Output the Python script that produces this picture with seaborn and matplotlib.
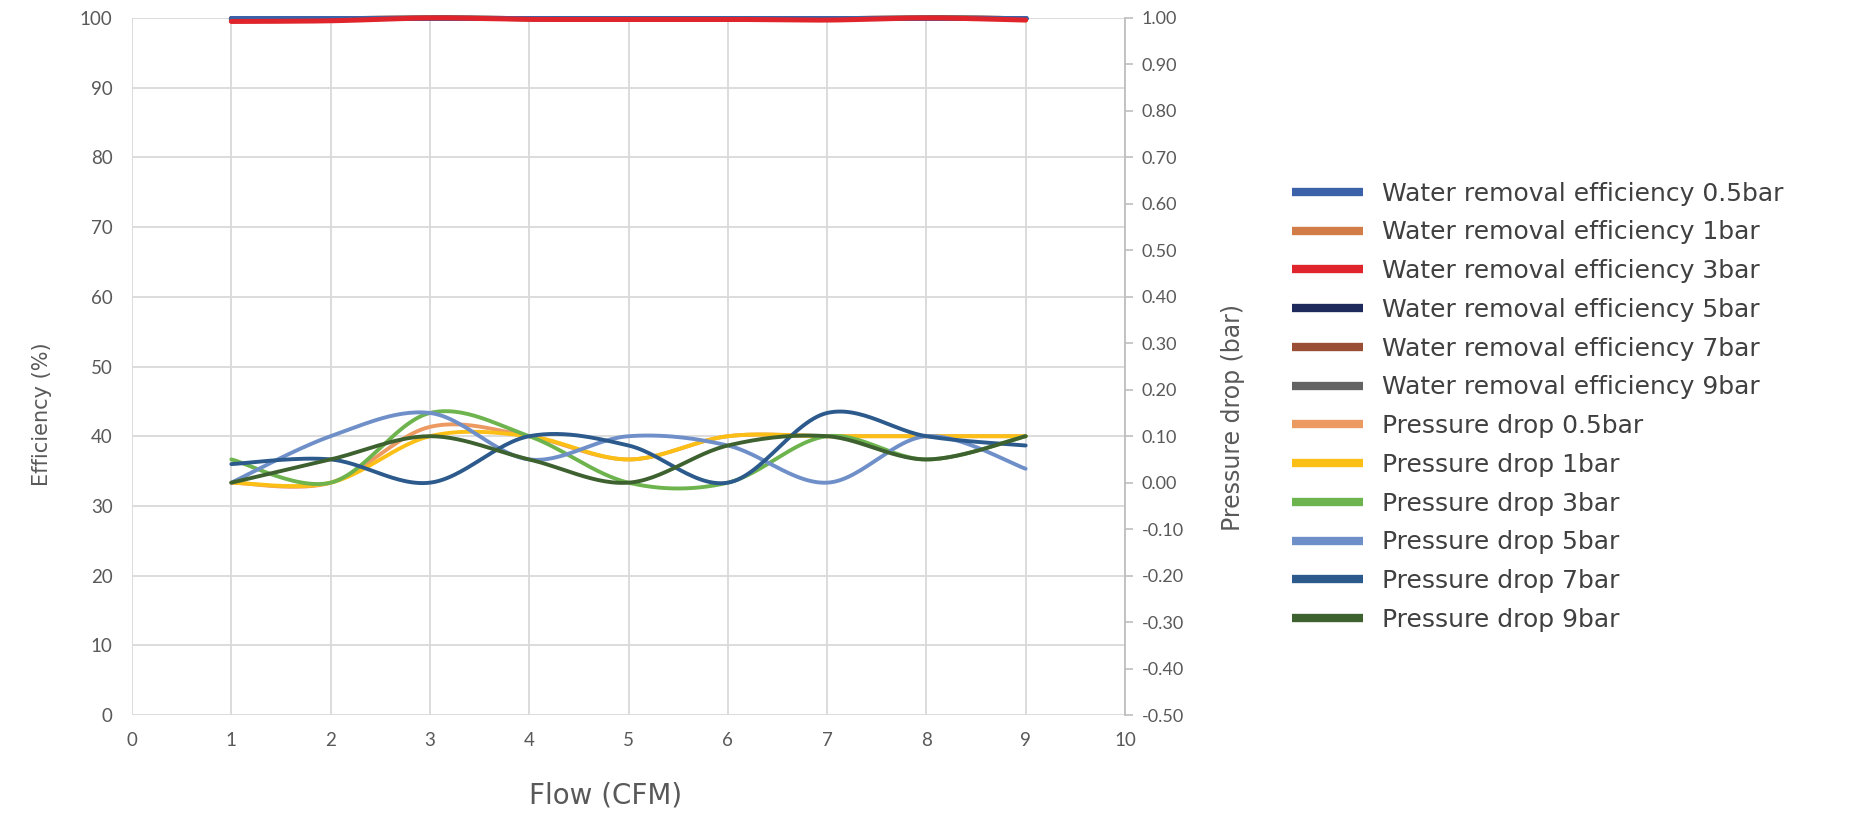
import numpy as np
import pandas as pd
import seaborn as sns
import matplotlib.pyplot as plt
from matplotlib.lines import Line2D

# Flow values (CFM)
flow = [1, 2, 3, 4, 5, 6, 7, 8, 9]

# Water removal efficiency (%) - left axis
eff_05 = [100, 100, 100, 100, 100, 100, 100, 100, 100]
eff_1 = [99.9, 99.9, 100, 99.9, 99.9, 99.9, 99.9, 100, 99.9]
eff_3 = [99.5, 99.6, 100, 99.8, 99.8, 99.8, 99.7, 100, 99.7]
eff_5 = [99.9, 99.9, 100, 99.9, 99.9, 99.9, 99.9, 100, 99.9]
eff_7 = [99.9, 99.9, 100, 99.9, 99.9, 99.9, 99.9, 100, 99.9]
eff_9 = [99.9, 99.9, 100, 99.9, 99.9, 99.9, 99.9, 100, 99.9]

# Pressure drop (bar) - right axis
dp_05 = [0.00, 0.00, 0.12, 0.10, 0.05, 0.10, 0.10, 0.10, 0.10]
dp_1 = [0.00, 0.00, 0.10, 0.10, 0.05, 0.10, 0.10, 0.10, 0.10]
dp_3 = [0.05, 0.00, 0.15, 0.10, 0.00, 0.00, 0.10, 0.05, 0.10]
dp_5 = [0.00, 0.10, 0.15, 0.05, 0.10, 0.08, 0.00, 0.10, 0.03]
dp_7 = [0.04, 0.05, 0.00, 0.10, 0.08, 0.00, 0.15, 0.10, 0.08]
dp_9 = [0.00, 0.05, 0.10, 0.05, 0.00, 0.08, 0.10, 0.05, 0.10]

eff_labels = ['Water removal efficiency 0.5bar', 'Water removal efficiency 1bar',
              'Water removal efficiency 3bar', 'Water removal efficiency 5bar',
              'Water removal efficiency 7bar', 'Water removal efficiency 9bar']
dp_labels = ['Pressure drop 0.5bar', 'Pressure drop 1bar', 'Pressure drop 3bar',
             'Pressure drop 5bar', 'Pressure drop 7bar', 'Pressure drop 9bar']

eff_colors = ['#3B62A8', '#D27D48', '#E0242B', '#1F2A5C', '#9A4E35', '#636363']
dp_colors = ['#EC9A62', '#FBBF16', '#6EB44E', '#6F8FC9', '#2C5A8C', '#3E6130']


def smooth(xs, ys, n=30):
    # Excel-style smoothed line (Catmull-Rom bezier between points)
    p = np.column_stack([xs, ys]).astype(float)
    p = np.vstack([p[0], p, p[-1]])
    out = []
    t = np.linspace(0, 1, n)[:, None]
    for i in range(1, len(p) - 2):
        p0, p1, p2, p3 = p[i - 1], p[i], p[i + 1], p[i + 2]
        c1 = p1 + (p2 - p0) / 6
        c2 = p2 - (p3 - p1) / 6
        seg = ((1 - t) ** 3) * p1 + 3 * ((1 - t) ** 2) * t * c1 + 3 * (1 - t) * t ** 2 * c2 + t ** 3 * p2
        out.append(seg if i == 1 else seg[1:])
    out = np.vstack(out)
    return pd.DataFrame({'x': out[:, 0], 'y': out[:, 1]})


sns.set_style('white')
plt.rcParams['font.family'] = ['DejaVu Sans']

fig = plt.figure(figsize=(18.65, 8.14), dpi=100)
ax = fig.add_axes([0.0708, 0.1216, 0.5324, 0.8563])
ax2 = ax.twinx()

grid_c = '#D9D9D9'
text_c = '#595959'

# Efficiency lines (left axis); blue sits on top edge, red drawn above the rest
eff_z = [4, 3, 5, 3, 3, 3]
for vals, col, z in zip([eff_05, eff_1, eff_3, eff_5, eff_7, eff_9], eff_colors, eff_z):
    d = smooth(flow, vals)
    sns.lineplot(data=d, x='x', y='y', ax=ax, color=col, linewidth=3.6,
                 estimator=None, sort=False, legend=False, zorder=z)
for ln in ax.lines:
    ln.set_clip_on(False)

# Pressure drop lines (right axis)
for vals, col in zip([dp_05, dp_1, dp_3, dp_5, dp_7, dp_9], dp_colors):
    d = smooth(flow, vals)
    sns.lineplot(data=d, x='x', y='y', ax=ax2, color=col, linewidth=2.8,
                 estimator=None, sort=False, legend=False)

ax.set_xlim(0, 10)
ax.set_ylim(0, 100)
ax2.set_ylim(-0.5, 1.0)
ax.set_xticks(range(0, 11))
ax.set_yticks(range(0, 101, 10))
dp_ticks = np.round(np.arange(-0.5, 1.01, 0.1), 2)
ax2.set_yticks(dp_ticks)
ax2.set_yticklabels([f'{abs(v) if v == 0 else v:.2f}' for v in dp_ticks])

ax.grid(True, color=grid_c, linewidth=1.3)
ax.set_axisbelow(True)
for s in ['top', 'left', 'bottom', 'right']:
    ax.spines[s].set_visible(False)
for s in ['top', 'left', 'bottom']:
    ax2.spines[s].set_visible(False)
ax2.spines['right'].set_color('#BFBFBF')
ax2.spines['right'].set_linewidth(1.3)

ax.tick_params(axis='y', length=0, labelsize=13.5, labelcolor=text_c, pad=14)
ax.tick_params(axis='x', length=0, labelsize=13.5, labelcolor=text_c, pad=12)
ax2.tick_params(axis='y', length=6, width=1.2, color='#BFBFBF', labelsize=13,
                labelcolor=text_c, pad=6)
for lab in ax.get_xticklabels() + ax.get_yticklabels() + ax2.get_yticklabels():
    lab.set_family('Lato')

ax.set_xlabel('Flow (CFM)', fontsize=20, color=text_c, va='center', ha='center')
ax.set_ylabel('Efficiency (%)', fontsize=15, color=text_c, va='center', ha='center')
ax2.set_ylabel('Pressure drop (bar)', fontsize=17, color=text_c, va='center', ha='center')
ax.xaxis.set_label_coords(0.477, -0.116)
ax.yaxis.set_label_coords(-0.091, 0.431)
ax2.yaxis.set_label_coords(1.109, 0.427)

handles = [Line2D([0], [0], color=c, linewidth=6, solid_capstyle='butt')
           for c in eff_colors + dp_colors]
fig.legend(handles, eff_labels + dp_labels, loc='upper left',
           bbox_to_anchor=(0.6925, 0.777), frameon=False, fontsize=18,
           handlelength=2.85, handletextpad=0.75, labelspacing=0.59,
           borderaxespad=0, borderpad=0, labelcolor='#404040')

fig.savefig('out.png', dpi=100)
